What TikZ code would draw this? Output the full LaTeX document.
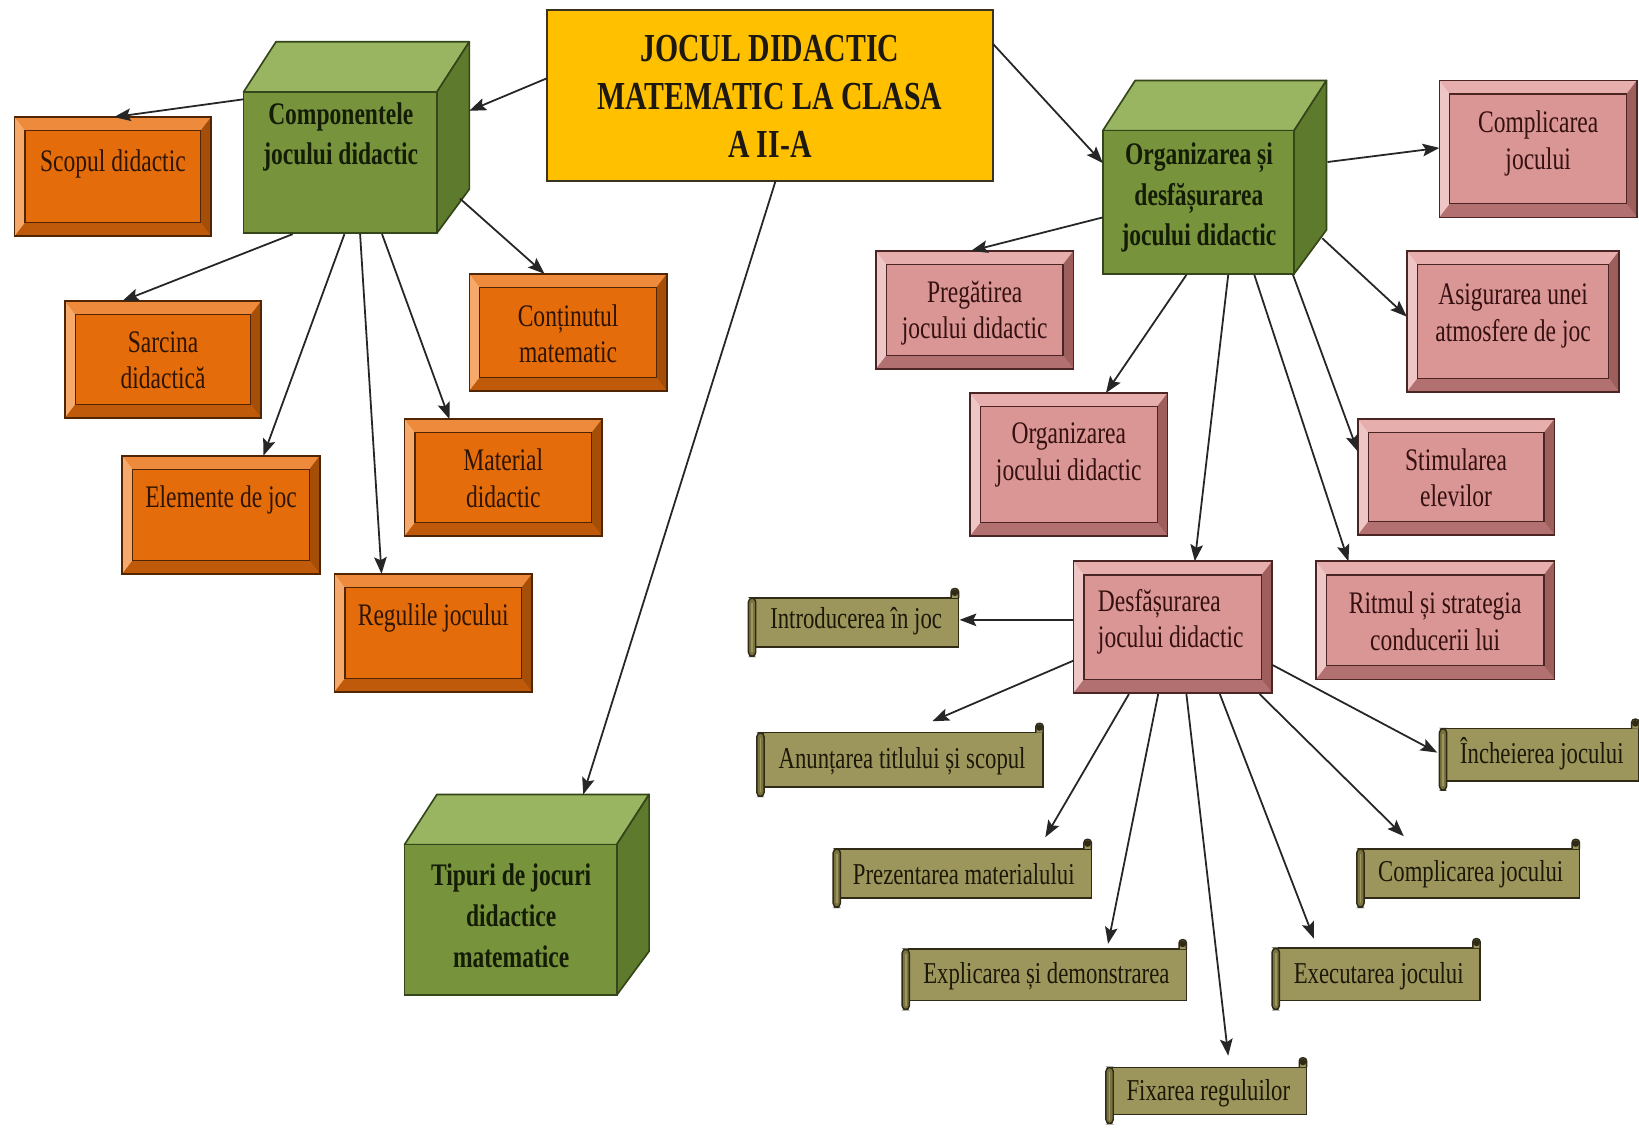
\documentclass[tikz,border=0pt]{standalone}
\usepackage{fontspec}
\setmainfont[FakeStretch=0.75]{Liberation Serif}
\usetikzlibrary{calc,arrows.meta}
\definecolor{ttlY}{HTML}{FFC000}
\definecolor{ttlE}{HTML}{3A3320}
\definecolor{grF}{HTML}{77933C}
\definecolor{grT}{HTML}{9AB562}
\definecolor{grR}{HTML}{5E7A2C}
\definecolor{grE}{HTML}{34461A}
\definecolor{grX}{HTML}{141C06}
\definecolor{orF}{HTML}{E46C0A}
\definecolor{orT}{HTML}{EE8A3C}
\definecolor{orL}{HTML}{F5A96A}
\definecolor{orR}{HTML}{A44E08}
\definecolor{orB}{HTML}{BF5A0A}
\definecolor{orE}{HTML}{4F2504}
\definecolor{orX}{HTML}{2E1402}
\definecolor{pkF}{HTML}{D99694}
\definecolor{pkT}{HTML}{E6AEAD}
\definecolor{pkL}{HTML}{EEC6C5}
\definecolor{pkR}{HTML}{9E5E5C}
\definecolor{pkB}{HTML}{B27070}
\definecolor{pkE}{HTML}{4A2524}
\definecolor{pkX}{HTML}{351010}
\definecolor{scF}{HTML}{9C955C}
\definecolor{scD}{HTML}{7A7340}
\definecolor{scE}{HTML}{2F2B17}
\definecolor{scX}{HTML}{1C1808}
\definecolor{lnC}{HTML}{262626}
\tikzset{
  boxnode/.style={draw, line width=0.8pt, inner sep=0pt, outer sep=0pt},
  arr/.style={draw=lnC, line width=0.85pt, -{Stealth[length=8pt,width=6pt,inset=1.5pt]}},
  lbl/.style={align=center, inner sep=0pt, font=\fontsize{15}{17.5}\selectfont},
  cubelbl/.style={align=center, inner sep=0pt, text=grX, font=\bfseries\fontsize{15}{19.5}\selectfont},
  scrlbl/.style={inner sep=0pt, text=scX, font=\fontsize{14.5}{17}\selectfont},
  sc/.style={fill=scF, draw=scE, line width=0.7pt}
}
% bevel box: name, colour prefix, x0, y0, x1, y1
\newcommand{\bevelbox}[6]{%
  \fill[#2F] (#3,#4) rectangle (#5,#6);
  \fill[#2T] (#3,#4) -- (#5,#4) -- ({#5-10},{#4+13}) -- ({#3+10},{#4+13}) -- cycle;
  \fill[#2L] (#3,#4) -- ({#3+10},{#4+13}) -- ({#3+10},{#6-13}) -- (#3,#6) -- cycle;
  \fill[#2R] (#5,#4) -- (#5,#6) -- ({#5-10},{#6-13}) -- ({#5-10},{#4+13}) -- cycle;
  \fill[#2B] (#3,#6) -- (#5,#6) -- ({#5-10},{#6-13}) -- ({#3+10},{#6-13}) -- cycle;
  \draw[#2E, line width=0.6pt] ({#3+10},{#4+13}) rectangle ({#5-10},{#6-13});
  \node[boxnode, draw=#2E, minimum width={(#5-#3)*0.5pt}, minimum height={(#6-#4)*0.5pt}]
    (#1) at ({(#3+#5)/2},{(#4+#6)/2}) {};
}
% cube: name, x0, y0, x1, y1 of front face
\newcommand{\cubebox}[5]{%
  \filldraw[fill=grT, draw=grE, line width=0.8pt, line join=round]
    (#2,#3) -- ({#2+31},{#3-48}) -- ({#4+31},{#3-48}) -- (#4,#3) -- cycle;
  \filldraw[fill=grR, draw=grE, line width=0.8pt, line join=round]
    (#4,#3) -- ({#4+31},{#3-48}) -- ({#4+31},{#5-42}) -- (#4,#5) -- cycle;
  \node[boxnode, draw=grE, fill=grF, minimum width={(#4-#2)*0.5pt}, minimum height={(#5-#3)*0.5pt}]
    (#1) at ({(#2+#4)/2},{(#3+#5)/2}) {};
}
% scroll: name, x0, y0, x1, y1
\newcommand{\scrollbox}[5]{%
  \filldraw[sc] ({#2+6},{#3+9}) rectangle (#4,{#5-9});
  \filldraw[sc, rounded corners=1.5pt] ({#4-7},{#3+9}) -- ({#4-7},{#3}) -- (#4,{#3}) -- (#4,{#3+9});
  \fill[scE] ({#4-3.5},{#3+4}) circle (1.6pt);
  \filldraw[fill=scD, draw=scE, line width=0.7pt, rounded corners=2pt] (#2,{#3+9}) rectangle ({#2+7},#5);
  \draw[scF, line width=0.8pt] ({#2+3.5},{#3+14}) -- ({#2+3.5},{#5-4});
  \node[inner sep=0pt, outer sep=0pt, minimum width={(#4-#2)*0.5pt}, minimum height={(#5-#3)*0.5pt}]
    (#1) at ({(#2+#4)/2},{(#3+#5)/2}) {};
}
\begin{document}
\begin{tikzpicture}[x=0.5pt,y=-0.5pt]
\fill[white] (0,0) rectangle (1568,1079);
\useasboundingbox (0,0) rectangle (1568,1079);

% ---------- title ----------
\node[boxnode, draw=ttlE, fill=ttlY, line width=1pt, minimum width=213.5pt, minimum height=81.5pt]
  (title) at (736.5,91.5) {};
\node[align=center, inner sep=0pt, text=ttlE!50!black, font=\bfseries\fontsize{19}{23}\selectfont]
  (titleT) at (736.5,92) {JOCUL DIDACTIC\\MATEMATIC LA CLASA\\A II-A};

% ---------- left cube and orange boxes ----------
\cubebox{comp}{233}{88}{418}{223}
\node[cubelbl] (compT) at (326,131) {Componentele\\jocului didactic};

\bevelbox{scop}{or}{14}{112}{202}{226}
\node[lbl, text=orX] (scopT) at (108,157) {Scopul didactic};
\bevelbox{sarc}{or}{62}{288}{250}{400}
\node[lbl, text=orX] (sarcT) at (156,344.5) {Sarcina\\didactică};
\bevelbox{elem}{or}{117}{436}{306}{549}
\node[lbl, text=orX] (elemT) at (211.5,478) {Elemente de joc};
\bevelbox{reg}{or}{320}{549}{509}{662}
\node[lbl, text=orX] (regT) at (414.5,591) {Regulile jocului};
\bevelbox{mat}{or}{387}{401}{576}{513}
\node[lbl, text=orX] (matT) at (481.5,457.5) {Material\\didactic};
\bevelbox{cont}{or}{449}{262}{638}{374}
\node[lbl, text=orX] (contT) at (543.5,319.5) {Conținutul\\matematic};

% ---------- bottom cube ----------
\cubebox{tip}{387}{808}{590}{952}
\node[cubelbl] (tipT) at (489,876) {Tipuri de jocuri\\didactice\\matematice};

% ---------- right cube and pink boxes ----------
\cubebox{org}{1055}{125}{1238}{262}
\node[cubelbl] (orgT) at (1147,189) {Organizarea și\\desfășurarea\\jocului didactic};

\bevelbox{compl}{pk}{1377}{77}{1566}{208}
\node[lbl, text=pkX] (complT) at (1471.5,137) {Complicarea\\jocului};
\bevelbox{asig}{pk}{1346}{240}{1549}{375}
\node[lbl, text=pkX] (asigT) at (1447.5,302.5) {Asigurarea unei\\atmosfere de joc};
\bevelbox{preg}{pk}{838}{240}{1027}{353}
\node[lbl, text=pkX] (pregT) at (932.5,299.5) {Pregătirea\\jocului didactic};
\bevelbox{orgj}{pk}{928}{376}{1117}{513}
\node[lbl, text=pkX] (orgjT) at (1022.5,435.5) {Organizarea\\jocului didactic};
\bevelbox{stim}{pk}{1299}{401}{1487}{512}
\node[lbl, text=pkX] (stimT) at (1393,457) {Stimularea\\elevilor};
\bevelbox{ritm}{pk}{1259}{537}{1487}{650}
\node[lbl, text=pkX] (ritmT) at (1373,594.5) {Ritmul și strategia\\conducerii lui};
\bevelbox{desf}{pk}{1027}{537}{1217}{663}
\node[lbl, text=pkX, align=left, anchor=west] (desfT) at (1050,595) {Desfășurarea\\jocului didactic};

% ---------- scrolls ----------
\scrollbox{intro}{716}{563}{917}{628}
\node[scrlbl] (introT) at (819,594) {Introducerea în joc};
\scrollbox{anun}{724}{692}{998}{762}
\node[scrlbl] (anunT) at (863,728) {Anunțarea titlului și scopul};
\scrollbox{prez}{797}{803}{1044}{868}
\node[scrlbl] (prezT) at (922,836) {Prezentarea materialului};
\scrollbox{expl}{863}{899}{1135}{966}
\node[scrlbl] (explT) at (1001,934) {Explicarea și demonstrarea};
\scrollbox{fix}{1058}{1012}{1250}{1075}
\node[scrlbl] (fixT) at (1156,1046) {Fixarea reguluilor};
\scrollbox{exec}{1217}{898}{1416}{966}
\node[scrlbl] (execT) at (1319,934) {Executarea jocului};
\scrollbox{compb}{1298}{803}{1511}{868}
\node[scrlbl] (compbT) at (1407,836) {Complicarea jocului};
\scrollbox{inch}{1377}{688}{1568}{756}
\node[scrlbl] (inchT) at (1475,721) {Încheierea jocului};

% ---------- connectors ----------
\draw[arr] ($(title.north west)+(0,65)$) -- ($(comp.north east)+(31,18)$);
\draw[arr] ($(comp.north west)+(0,7)$) -- ($(scop.north)+(1,0)$);
\draw[arr] ($(comp.south west)+(47,1)$) -- ($(sarc.north west)+(55,0)$);
\draw[arr] ($(comp.south)+(4,1)$) -- ($(elem.north east)+(-54,0)$);
\draw[arr] ($(comp.south)+(19,1)$) -- ($(reg.north west)+(45,0)$);
\draw[arr] ($(comp.south)+(40,1)$) -- ($(mat.north west)+(43,0)$);
\draw[arr] ($(comp.south east)+(22,-33)$) -- ($(cont.north west)+(72,0)$);
\draw[arr] ($(title.south)+(5.5,0)$) -- ($(tip.north west)+(171,-48)$);
\draw[arr] ($(title.north east)+(0,32)$) -- ($(org.north west)+(0,31)$);

\draw[arr] ($(org.north east)+(32,30)$) -- ($(compl.west)+(0,-1)$);
\draw[arr] ($(org.south west)+(0,-54)$) -- ($(preg.north west)+(91,0)$);
\draw[arr] ($(org.south west)+(80,1)$) -- ($(orgj.north west)+(130,0)$);
\draw[arr] ($(org.south west)+(120,1)$) -- ($(desf.north west)+(116,0)$);
\draw[arr] ($(org.south west)+(145,1)$) -- ($(ritm.north west)+(31,0)$);
\draw[arr] ($(org.south east)+(-1,1)$) -- ($(stim.north west)+(0,31)$);
\draw[arr] ($(org.south east)+(27,-34)$) -- ($(asig.north west)+(0,63)$);

\draw[arr] ($(desf.north west)+(0,56)$) -- ($(intro.north east)+(1,30)$);
\draw[arr] ($(desf.north west)+(0,95)$) -- ($(anun.north west)+(168,-2)$);
\draw[arr] ($(desf.south west)+(53,1)$) -- ($(prez.north east)+(-44,-2)$);
\draw[arr] ($(desf.south west)+(81,1)$) -- ($(expl.north west)+(197,4)$);
\draw[arr] ($(desf.south west)+(108,1)$) -- ($(fix.north west)+(117,-2)$);
\draw[arr] ($(desf.south west)+(140,1)$) -- ($(exec.north west)+(40,0)$);
\draw[arr] ($(desf.south east)+(-12,1)$) -- ($(compb.north west)+(45,-3)$);
\draw[arr] ($(desf.north east)+(0,99)$) -- ($(inch.north west)+(-2,32)$);
\end{tikzpicture}
\end{document}
